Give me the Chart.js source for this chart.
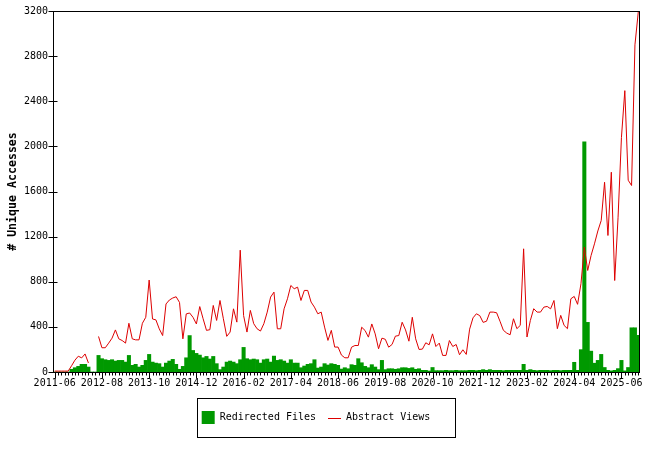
<!DOCTYPE html>
<html><head><meta charset="utf-8">
<script src="https://cdn.jsdelivr.net/npm/chart.js@4.4.1/dist/chart.umd.min.js"></script>
<style>html,body{margin:0;padding:0;background:#fff;}canvas{display:block;}</style>
</head><body>
<canvas id="c" width="650" height="450"></canvas>
<script>
const startYear = 2011, startMonth = 6, monthCount = 174;
const tickLabels = ['2011-06','2012-08','2013-10','2014-12','2016-02','2017-04','2018-06','2019-08','2020-10','2021-12','2023-02','2024-04','2025-06'];
const seriesNames = ['Redirected Files', 'Abstract Views'];
const yTicks = [0, 400, 800, 1200, 1600, 2000, 2400, 2800, 3200];

const redirectedFiles = [
  0,0,0,0,0, 24,38,50,68,68,44, 0,0,
  147,118,109,103,109,97,103,103,
  88,147,59,68,44,59,103,156,88,79,
  74,44,79,97,112,68,24,50,126,323,
  191,165,150,126,138,115,138,74,21,44,
  88,97,88,74,109,218,118,109,115,109,
  79,109,115,88,141,103,109,97,79,109,
  79,79,38,53,68,74,109,35,44,74,
  62,74,68,59,26,38,29,65,59,118,
  82,50,38,65,44,21,103,21,29,29,
  24,29,38,38,32,38,24,29,15,15,
  9,40,12,12,12,15,12,12,15,12,
  12,12,15,15,12,15,21,15,21,15,
  15,15,12,15,15,15,15,15,68,15,
  21,15,12,15,15,15,12,15,15,12,
  15,15,15,86,15,198,2040,440,185,78,
  103,156,40,15,10,15,30,103,10,40,
  392,392,325
];

const abstractViews = [
  8,8,8,8,8, 55,105,140,125,160,80, null,null,
  315,215,215,256,300,373,294,279,
  256,432,294,285,285,432,485,815,470,462,
  382,323,603,638,656,667,617,294,515,523,
  485,426,580,472,369,375,590,457,634,472,
  316,354,560,442,1080,500,354,546,428,383,
  363,428,531,664,708,383,383,560,649,767,
  738,752,634,723,723,620,575,516,531,398,
  280,369,221,221,150,126,126,220,235,235,
  397,368,309,426,338,206,300,290,220,244,
  318,323,441,373,273,485,294,200,203,259,
  241,338,226,256,147,147,279,226,244,153,
  197,156,380,480,516,500,440,450,531,531,
  525,450,370,345,330,472,384,413,1092,310,
  457,561,531,531,575,581,560,634,384,502,
  413,384,649,670,600,782,1107,900,1033,1136,
  1250,1343,1682,1210,1771,811,1372,2080,2494,1700,
  1653,2900,3195
];

const months = [];
for (let k = 0; k < monthCount; k++) {
  const m = startMonth - 1 + k;
  const yy = startYear + Math.floor(m / 12);
  const mm = (m % 12) + 1;
  months.push(yy + '-' + String(mm).padStart(2, '0'));
}

const GREEN = '#009900', RED = '#dd0000';
const MONO = "'DejaVu Sans Mono', 'Liberation Mono', monospace";

const framePlugin = {
  id: 'frame',
  afterLayout(chart) {
    const lg = chart.legend;
    if (lg) { lg.left -= 4; lg.right -= 4; }
  },
  afterDraw(chart) {
    const {ctx, chartArea: a, scales: {x, y}} = chart;
    ctx.save();
    ctx.strokeStyle = '#000';
    ctx.lineWidth = 1;
    const L = Math.round(a.left) + 0.5, R = Math.round(a.right) - 0.5;
    const T = Math.round(a.top) + 0.5, B = Math.round(a.bottom) + 0.5;
    ctx.strokeRect(L, T, R - L, B - T);
    ctx.beginPath();
    for (let i = 0; i < months.length; i++) {
      const px = Math.round(x.getPixelForValue(i)) + 0.5;
      const len = tickLabels.includes(months[i]) ? 6 : 3;
      ctx.moveTo(px, B); ctx.lineTo(px, B + len);
    }
    for (const v of yTicks) {
      const py = Math.round(y.getPixelForValue(v)) + 0.5;
      ctx.moveTo(L - 5, py); ctx.lineTo(L + 4, py);
    }
    ctx.stroke();
    const hb = chart.legend.legendHitBoxes;
    if (hb && hb.length > 1) {
      const bx = hb[0].left, by = hb[0].top;
      ctx.strokeRect(Math.round(bx - 5) + 0.5, Math.round(by - 13) + 0.5, 258, 39);
      ctx.strokeStyle = RED;
      ctx.beginPath();
      const ly = Math.round(hb[1].top + 6.5) + 0.5;
      ctx.moveTo(Math.round(hb[1].left), ly); ctx.lineTo(Math.round(hb[1].left) + 13, ly);
      ctx.stroke();
    }
    ctx.restore();
  }
};

new Chart(document.getElementById('c'), {
  data: {
    labels: months,
    datasets: [
      {type: 'bar', label: seriesNames[0], data: redirectedFiles, backgroundColor: GREEN, borderWidth: 0,
       barPercentage: 1, categoryPercentage: 1, order: 2},
      {type: 'line', label: seriesNames[1], data: abstractViews, borderColor: RED, borderWidth: 1,
       pointRadius: 0, tension: 0, spanGaps: false, fill: false, order: 1}
    ]
  },
  options: {
    responsive: false, animation: false, devicePixelRatio: 1,
    layout: {padding: {left: 0, right: 10, top: 10, bottom: 16}},
    plugins: {
      tooltip: {enabled: false},
      legend: {
        position: 'bottom',
        labels: {
          font: {family: MONO, size: 10}, color: '#000', boxWidth: 13, boxHeight: 13, padding: 12,
          generateLabels: () => [
            {text: seriesNames[0], fillStyle: GREEN, strokeStyle: GREEN, lineWidth: 0, datasetIndex: 0, hidden: false},
            {text: seriesNames[1], fillStyle: 'rgba(0,0,0,0)', strokeStyle: 'rgba(0,0,0,0)', lineWidth: 0, datasetIndex: 1, hidden: false}
          ]
        }
      }
    },
    scales: {
      x: {
        type: 'category', offset: true,
        grid: {display: false, drawTicks: false, offset: false},
        border: {display: false},
        ticks: {autoSkip: false, maxRotation: 0, minRotation: 0, padding: 5, color: '#000',
                font: {family: MONO, size: 10},
                callback: (v, i) => tickLabels.includes(months[i]) ? months[i] : ''},
        afterFit: s => { s.height = 27; }
      },
      y: {
        min: 0, max: 3200,
        grid: {display: false, drawTicks: false},
        border: {display: false},
        ticks: {stepSize: 400, padding: 5, color: '#000', font: {family: MONO, size: 10},
                callback: v => String(v)},
        title: {display: true, text: '# Unique Accesses', color: '#000',
                font: {family: MONO, size: 11.6, weight: 'bold'}, padding: {top: 6.5, bottom: 0}},
        afterFit: s => { s.width = 53; }
      }
    }
  },
  plugins: [framePlugin]
});
</script>
</body></html>
